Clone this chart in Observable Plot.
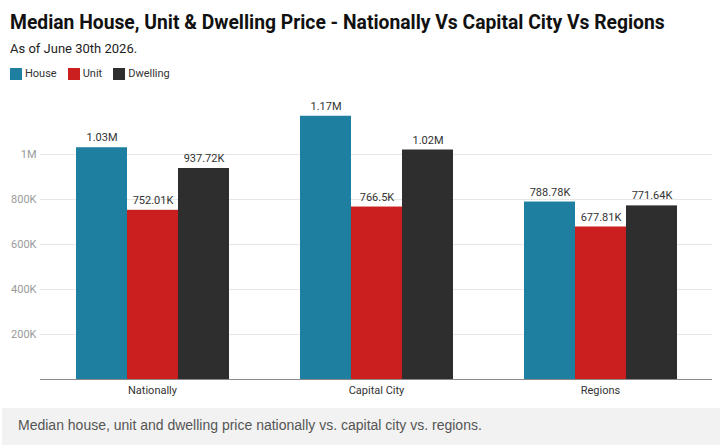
<!DOCTYPE html>
<html>
<head>
<meta charset="utf-8">
<script src="https://cdn.jsdelivr.net/npm/d3@7"></script>
<script src="https://cdn.jsdelivr.net/npm/@observablehq/plot@0.6"></script>
<style>
  html, body { margin: 0; padding: 0; background: #fff; }
  #wrap { position: relative; width: 722px; height: 445px; overflow: hidden; font-family: Roboto, "Noto Sans", sans-serif; }
  #title { position: absolute; left: 10px; top: 11px; font-size: 19.3px; font-weight: 700; color: #111; white-space: nowrap; }
  #subtitle { position: absolute; left: 10px; top: 41px; font-size: 13px; color: #222; }
  #legend { position: absolute; left: 10px; top: 67px; display: flex; gap: 11px; font-size: 11px; color: #333; }
  #legend span.item { display: flex; align-items: center; gap: 3px; }
  #legend i { display: inline-block; width: 12px; height: 12px; }
  #plot { position: absolute; left: 0; top: 90px; }
  #caption { position: absolute; left: 2px; top: 408px; width: 718px; height: 37px; background: #f2f2f2;
             font-family: "Liberation Sans", Arial, sans-serif; font-size: 14px; color: #555; line-height: 34px; padding-left: 16px; box-sizing: border-box; }
</style>
</head>
<body>
<div id="wrap">
  <div id="title">Median House, Unit &amp; Dwelling Price - Nationally Vs Capital City Vs Regions</div>
  <div id="subtitle">As of June 30th 2026.</div>
  <div id="legend"></div>
  <div id="plot"></div>
  <div id="caption">Median house, unit and dwelling price nationally vs. capital city vs. regions.</div>
</div>
<script>
// Median prices by area (AUD)
const areas = ["Nationally", "Capital City", "Regions"];
const series = ["House", "Unit", "Dwelling"];
const house = [1030000, 1170000, 788780];
const unit = [752010, 766500, 677810];
const dwelling = [937720, 1020000, 771640];
const colors = ["#1e7fa0", "#cb1f1f", "#2e2e2e"];
const yTicks = [200000, 400000, 600000, 800000, 1000000];

const rows = [];
areas.forEach((a, i) => {
  rows.push({area: a, series: "House", value: house[i]});
  rows.push({area: a, series: "Unit", value: unit[i]});
  rows.push({area: a, series: "Dwelling", value: dwelling[i]});
});

const trim = (v) => String(+v.toFixed(2));
const fmtValue = (v) => v >= 1e6 ? (v / 1e6).toFixed(2) + "M" : trim(v / 1e3) + "K";
const fmtTick = (v) => v >= 1e6 ? trim(v / 1e6) + "M" : trim(v / 1e3) + "K";

// legend
const legend = document.getElementById("legend");
series.forEach((s, i) => {
  const item = document.createElement("span");
  item.className = "item";
  item.innerHTML = `<i style="background:${colors[i]}"></i>${s}`;
  legend.appendChild(item);
});

const chart = Plot.plot({
  width: 722,
  height: 318,
  marginLeft: 40,
  marginRight: 10,
  marginTop: 19,
  marginBottom: 29,
  style: {fontFamily: "Roboto, sans-serif", fontSize: "11px", background: "transparent"},
  fx: {domain: areas, padding: 0, label: null},
  x: {domain: series, paddingInner: 0, paddingOuter: 0.654, axis: null},
  y: {domain: [0, 1200000], axis: null},
  color: {domain: series, range: colors},
  marks: [
    Plot.gridY(yTicks, {stroke: "#e6e6e6", strokeOpacity: 1}),
    Plot.axisY(yTicks, {tickSize: 0, tickPadding: 4, tickFormat: fmtTick, fill: "#9a9a9a", fontSize: 11, label: null}),
    Plot.axisFx({anchor: "bottom", tickSize: 0, tickPadding: 7, fill: "#333", fontSize: 11, label: null}),
    Plot.barY(rows, {fx: "area", x: "series", y: "value", fill: "series"}),
    Plot.text(rows, {fx: "area", x: "series", y: "value", text: (d) => fmtValue(d.value), dy: -10, fill: "#333", fontSize: 11}),
    Plot.ruleY([0], {stroke: "#8a8a8a"})
  ]
});
document.getElementById("plot").appendChild(chart);
</script>
</body>
</html>
